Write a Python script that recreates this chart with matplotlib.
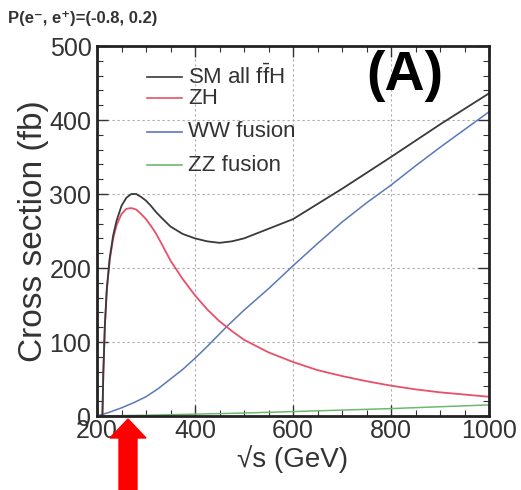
import numpy as np
import matplotlib
matplotlib.use("Agg")
import matplotlib.pyplot as plt
from matplotlib.lines import Line2D
from matplotlib.patches import Polygon
from matplotlib.ticker import MultipleLocator

plt.rcParams['font.family'] = ['Liberation Sans', 'DejaVu Sans']
plt.rcParams['mathtext.default'] = 'regular'

# cross sections (fb) vs sqrt(s) (GeV)
sm_x = [211, 213, 216, 220, 226, 233, 240, 250, 260, 270, 280, 290, 300, 310,
        320, 330, 350, 375, 400, 425, 450, 475, 500, 550, 600, 700, 800, 900, 1000]
sm_y = [0, 60, 122, 172, 214, 244, 264, 284, 295, 300, 300, 296, 291, 284,
        276, 269, 256, 246, 240, 236, 234, 236, 240, 253, 266, 307, 350, 394, 436]

zh_x = [211, 213, 216, 220, 226, 233, 240, 250, 260, 270, 280, 290, 300, 310,
        320, 330, 350, 375, 400, 425, 450, 475, 500, 550, 600, 650, 700, 750,
        800, 850, 900, 950, 1000]
zh_y = [0, 60, 120, 170, 211, 240, 258, 273, 280, 281, 279, 273, 266, 257,
        247, 235, 210, 185, 163, 144, 128, 115, 103, 86, 73, 62, 54, 47,
        41, 36, 32, 29, 26]

ww_x = [200, 225, 250, 275, 300, 325, 350, 375, 400, 425, 465, 500, 550, 600,
        650, 700, 750, 800, 850, 900, 950, 1000]
ww_y = [0, 5, 11, 18, 26, 37, 50, 63, 78, 94, 121, 143, 172, 203,
        233, 262, 288, 312, 338, 363, 387, 411]

zz_x = [200, 300, 400, 500, 600, 700, 800, 900, 1000]
zz_y = [0, 1, 2.5, 4, 6, 8, 10, 12.5, 15]

labels = [r'SM all f$\bar{f}$H', 'ZH', 'WW fusion', 'ZZ fusion']
colors = ['#3a3a3a', '#e8506a', '#5a78b8', '#70b870']
label_y = [0.916, 0.859, 0.768, 0.678]

fig = plt.figure(figsize=(5.21, 4.90), dpi=100)
ax = fig.add_axes([97/521, 74/490, 392/521, 370/490])

ax.plot(ww_x, ww_y, color=colors[2], lw=1.1)
ax.plot(zz_x, zz_y, color=colors[3], lw=1.1)
ax.plot(zh_x, zh_y, color=colors[1], lw=1.3)
ax.plot(sm_x, sm_y, color=colors[0], lw=1.3)

ax.set_xlim(200, 1000)
ax.set_ylim(0, 500)
ax.xaxis.set_major_locator(MultipleLocator(200))
ax.xaxis.set_minor_locator(MultipleLocator(50))
ax.yaxis.set_major_locator(MultipleLocator(100))
ax.yaxis.set_minor_locator(MultipleLocator(20))
ax.tick_params(which='both', direction='in', top=True, right=True, colors='#333333')
ax.tick_params(which='major', length=8, width=1.0, labelsize=18, pad=2)
ax.tick_params(which='minor', length=4, width=0.8)
ax.tick_params(axis='y', pad=4)
for sp in ax.spines.values():
    sp.set_linewidth(2.0)
    sp.set_color('#222222')
ax.grid(True, which='major', ls=(0, (2, 2.5)), color='#aaaaaa', lw=0.8)

ax.set_xlabel('√s (GeV)', fontsize=20, color='#333333', labelpad=2)
ax.set_ylabel('Cross section (fb)', fontsize=24, color='#333333', labelpad=0)

# hand-placed legend
for lab, c, yy in zip(labels, colors, label_y):
    ax.add_line(Line2D([0.128, 0.217], [yy, yy], transform=ax.transAxes,
                       color=c, lw=1.2))
    ax.text(0.232, yy, lab, transform=ax.transAxes, fontsize=16,
            color='#333333', va='center', ha='left')

ax.text(0.785, 0.92, '(A)', transform=ax.transAxes, fontsize=40,
        fontweight='bold', ha='center', va='center', color='black')

fig.text(8/521, 1 - 18/490, 'P(e⁻, e⁺)=(-0.8, 0.2)', fontsize=12,
         fontweight='bold', color='#333333', ha='left', va='center')

# red arrow below the x axis
arrow = np.array([[119, 490], [137, 490], [137, 438], [146, 438],
                  [128, 419], [110, 438], [119, 438]], dtype=float)
arrow[:, 0] = arrow[:, 0] / 100
arrow[:, 1] = (490 - arrow[:, 1]) / 100
fig.patches.append(Polygon(arrow, closed=True, color='#ff0000',
                           transform=fig.dpi_scale_trans, zorder=5))

fig.savefig('out.png', dpi=100)
